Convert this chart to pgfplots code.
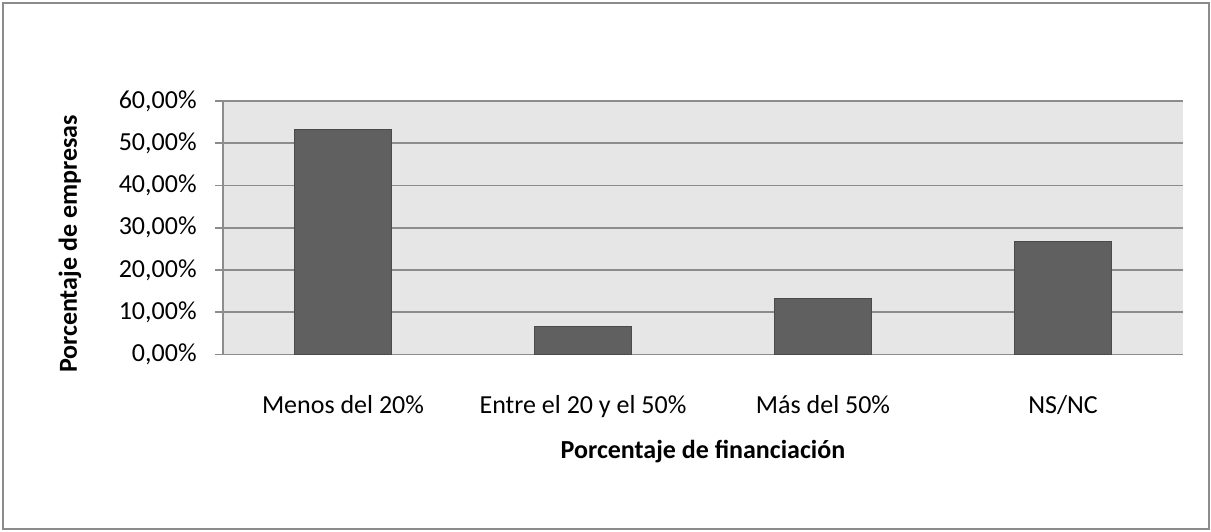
\documentclass[border=0pt]{standalone}
\usepackage{pgfplots}
\pgfplotsset{compat=1.18}
\usepackage{fontspec}
\setmainfont{Carlito}
\definecolor{plotbg}{HTML}{E6E6E6}
\definecolor{barfill}{HTML}{606060}
\definecolor{baredge}{HTML}{4A4A4A}
\definecolor{gridc}{HTML}{8C8C8C}
\definecolor{framec}{HTML}{8C8C8C}
\begin{document}
\begin{tikzpicture}
\useasboundingbox (0,0) rectangle (605.5pt,-265.5pt);
\draw[framec, line width=1pt] (1.25pt,-1.25pt) rectangle (604.5pt,-264.5pt);
\begin{axis}[
  at={(111.5pt,-50.5pt)}, anchor=north west,
  scale only axis, width=480pt, height=126.75pt,
  xmin=-0.5, xmax=3.5, ymin=0, ymax=60,
  axis background/.style={fill=plotbg},
  axis x line*=bottom, axis y line*=left,
  axis line style={gridc, line width=0.8pt},
  ybar, bar width=48.5pt,
  ytick={0,10,20,30,40,50,60},
  yticklabels={{0,00\%},{10,00\%},{20,00\%},{30,00\%},{40,00\%},{50,00\%},{60,00\%}},
  xtick={0,1,2,3},
  xticklabels={Menos del 20\%, Entre el 20 y el 50\%, Más del 50\%, NS/NC},
  ymajorgrids, grid style={gridc, line width=0.8pt},
  tick align=outside, major tick length=4pt,
  ytick style={gridc, line width=0.8pt},
  xtick style={draw=none},
  tick label style={font=\fontsize{13}{15}\selectfont},
  yticklabel style={anchor=east, inner sep=0pt, xshift=-9pt},
  xticklabel style={anchor=base, inner sep=0pt, yshift=-25.25pt},
  xlabel={Porcentaje de financiación},
  ylabel={Porcentaje de empresas},
  label style={font=\bfseries\fontsize{13}{15}\selectfont},
  xlabel style={at={(axis description cs:0.5,-0.4083)}, anchor=base, inner sep=0pt},
  ylabel style={at={(axis description cs:-0.15208,0.4359)}, anchor=base, inner sep=0pt, rotate=0},
]
\addplot[fill=barfill, draw=baredge, line width=0.6pt] coordinates {(0,53.33) (1,6.67) (2,13.33) (3,26.67)};
\end{axis}
\end{tikzpicture}
\end{document}
